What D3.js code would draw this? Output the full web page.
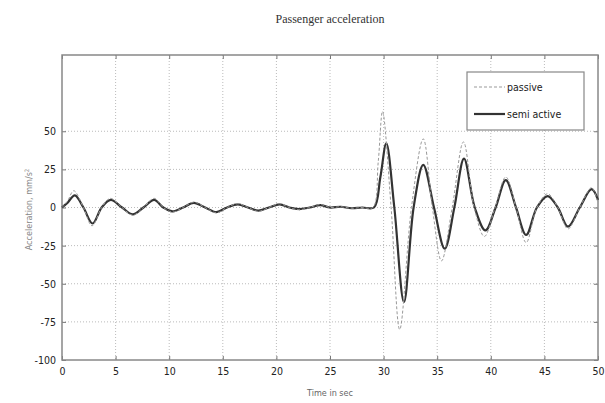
<!DOCTYPE html>
<html>
<head>
<meta charset="utf-8">
<script src="https://cdn.jsdelivr.net/npm/d3@7"></script>
<style>
  body { margin: 0; background: #fff; }
  svg text { font-family: "Liberation Sans Narrow", "DejaVu Sans Condensed", "Liberation Sans", sans-serif; }
</style>
</head>
<body>
<div id="chart"></div>
<script>
// semi active response, key points
let timeSemi = [0, 0.5, 1.2, 2.0, 2.85, 3.7, 4.55, 5.6, 6.6, 7.6, 8.6, 9.45, 10.3, 11.3, 12.3, 13.35, 14.4, 15.4, 16.4, 17.35, 18.3, 19.3, 20.3, 21.2, 22.1, 23.1, 24.1, 25.0, 26, 27, 28, 29.1, 29.7, 30.25, 31.0, 31.9, 32.8, 33.7, 34.7, 35.7, 36.6, 37.5, 38.5, 39.5, 40.45, 41.4, 42.35, 43.3, 44.3, 45.3, 46.25, 47.2, 48.3, 49.4, 50];
let semiActive = [0, 3, 8, 0, -10.5, 0, 5, 0, -4.5, 0, 5, 0, -2.5, 0, 3, 0, -3, 0, 2, 0, -2, 0, 2, 0, -1, 0, 1.5, 0, 0.5, -0.5, 0, 0, 20, 42, 0, -62, 0, 28, 0, -27, 0, 32, 0, -15, 0, 18, 0, -18, 0, 7.5, 0, -12.5, 0, 12, 5];

// passive response
let timePassive = [0, 0.5, 1.1, 2.0, 2.8, 3.7, 4.5, 5.6, 6.6, 7.6, 8.6, 9.45, 10.3, 11.3, 12.3, 13.35, 14.4, 15.4, 16.4, 17.35, 18.3, 19.3, 20.3, 21.2, 22.1, 23.1, 24.1, 25, 26, 27, 28, 29.0, 29.5, 29.9, 30.7, 31.5, 32.6, 33.7, 34.55, 35.4, 36.4, 37.45, 38.45, 39.4, 40.4, 41.4, 42.35, 43.3, 44.3, 45.3, 46.25, 47.2, 48.3, 49.4, 50];
let passive = [0, 4, 11, 0, -12, 0, 6, 0, -5, 0, 6, 0, -3, 0, 3.5, 0, -3.5, 0, 2.5, 0, -2.5, 0, 2.5, 0, -1.5, 0, 2, 0, 0.5, -0.5, 0, 0, 30, 63, 0, -80, 0, 45, 0, -35, 0, 43, 0, -19, 0, 20, 0, -23, 0, 9, 0, -14, 0, 13, 3];

let xTicks = [0, 5, 10, 15, 20, 25, 30, 35, 40, 45, 50];
let yTicks = [-100, -75, -50, -25, 0, 25, 50];
let legendNames = ["passive", "semi active"];

let width = 605, height = 403;
let margin = {top: 55, right: 7, bottom: 43, left: 62};
let w = width - margin.left - margin.right;
let h = height - margin.top - margin.bottom;

let svg = d3.select("#chart").append("svg")
    .attr("width", width)
    .attr("height", height);

let g = svg.append("g")
    .attr("transform", "translate(" + margin.left + "," + margin.top + ")");

let x = d3.scaleLinear().domain([0, 50]).range([0, w]);
let y = d3.scaleLinear().domain([-100, 100]).range([h, 0]);

// grid
g.append("g").selectAll("line").data(xTicks.slice(1, -1)).enter().append("line")
    .attr("x1", d => x(d)).attr("x2", d => x(d))
    .attr("y1", 0).attr("y2", h)
    .attr("stroke", "#bbb").attr("stroke-dasharray", "1,2");
g.append("g").selectAll("line").data(yTicks.slice(1)).enter().append("line")
    .attr("x1", 0).attr("x2", w)
    .attr("y1", d => y(d)).attr("y2", d => y(d))
    .attr("stroke", "#bbb").attr("stroke-dasharray", "1,2");

// axes, ticks pointing inward like matlab
let fmt = d => String(d);
g.append("g")
    .attr("transform", "translate(0," + h + ")")
    .call(d3.axisBottom(x).tickValues(xTicks).tickSize(-4).tickPadding(8).tickFormat(fmt));
g.append("g")
    .call(d3.axisLeft(y).tickValues(yTicks).tickSize(-4).tickPadding(6).tickFormat(fmt));
g.append("g")
    .call(d3.axisTop(x).tickValues(xTicks).tickSize(-4).tickFormat(""));
g.append("g")
    .attr("transform", "translate(" + w + ",0)")
    .call(d3.axisRight(y).tickValues(yTicks).tickSize(-4).tickFormat(""));

svg.selectAll(".domain").remove();
svg.selectAll(".tick line").attr("stroke", "#777");
svg.selectAll(".tick text").attr("font-size", 10.5).attr("fill", "#222");

g.append("rect")
    .attr("width", w).attr("height", h)
    .attr("fill", "none").attr("stroke", "#888").attr("stroke-width", 1.5);

let line = d3.line()
    .x(d => x(d[0]))
    .y(d => y(d[1]))
    .curve(d3.curveCatmullRom.alpha(0.5));

g.append("path")
    .datum(d3.zip(timeSemi, semiActive))
    .attr("d", line)
    .attr("fill", "none")
    .attr("stroke", "#333")
    .attr("stroke-width", 2.2);

g.append("path")
    .datum(d3.zip(timePassive, passive))
    .attr("d", line)
    .attr("fill", "none")
    .attr("stroke", "#999")
    .attr("stroke-width", 1)
    .attr("stroke-dasharray", "3,2");

// legend
let legend = svg.append("g").attr("transform", "translate(467,72)");
legend.append("rect")
    .attr("width", 117).attr("height", 58)
    .attr("fill", "#fff").attr("stroke", "#888").attr("stroke-width", 1.2);
legendNames.forEach(function(name, i) {
  let ly = 15 + i * 27;
  legend.append("line")
      .attr("x1", 7).attr("x2", 38).attr("y1", ly).attr("y2", ly)
      .attr("stroke", i == 0 ? "#999" : "#333")
      .attr("stroke-width", i == 0 ? 1 : 2.2)
      .attr("stroke-dasharray", i == 0 ? "3,2" : null);
  legend.append("text")
      .attr("x", 40).attr("y", ly + 4)
      .attr("font-size", 10.5)
      .attr("fill", "#222")
      .text(name);
});

// titles
svg.append("text")
    .attr("x", margin.left + w / 2).attr("y", 23)
    .attr("text-anchor", "middle")
    .attr("font-size", 12)
    .style("font-family", "'Liberation Serif', serif")
    .attr("fill", "#333")
    .text("Passenger acceleration");

svg.append("text")
    .attr("x", margin.left + w / 2).attr("y", 396)
    .attr("text-anchor", "middle")
    .attr("font-size", 9)
    .attr("fill", "#666")
    .text("Time in sec");

svg.append("text")
    .attr("transform", "translate(32," + (margin.top + y(0) + 2) + ") rotate(-90)")
    .attr("text-anchor", "middle")
    .attr("font-size", 9)
    .attr("fill", "#888")
    .html("Acceleration, mm/s<tspan baseline-shift='super' font-size='6'>2</tspan>");
</script>
</body>
</html>
